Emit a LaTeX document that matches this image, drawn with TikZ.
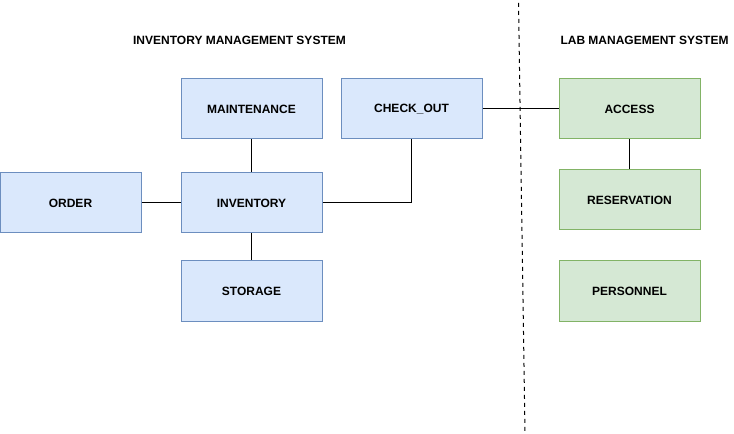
\documentclass[tikz,border=0pt]{standalone}
\usepackage{fontspec}
\setmainfont{Liberation Sans}
\definecolor{bfill}{HTML}{DAE8FC}
\definecolor{bdraw}{HTML}{6C8EBF}
\definecolor{gfill}{HTML}{D5E8D4}
\definecolor{gdraw}{HTML}{82B366}
\begin{document}
\begin{tikzpicture}[x=0.75pt,y=-0.75pt,
  box/.style={draw, line width=0.75pt, minimum width=141*0.75pt, minimum height=60*0.75pt, inner sep=0pt, font=\fontsize{9pt}{11pt}\selectfont\bfseries},
  bluebox/.style={box, fill=bfill, draw=bdraw},
  greenbox/.style={box, fill=gfill, draw=gdraw},
  title/.style={font=\fontsize{9pt}{11pt}\selectfont\bfseries, inner sep=0pt},
  conn/.style={draw=black, line width=0.75pt}]
\useasboundingbox (0,0) rectangle (734,434);
\node[title] (t1) at (239.5,40) {INVENTORY MANAGEMENT SYSTEM};
\node[title] (t2) at (644.5,40) {LAB MANAGEMENT SYSTEM};
\node[bluebox] (order) at (70.5,203) {ORDER};
\node[bluebox] (inv) at (251.5,203) {INVENTORY};
\node[bluebox] (maint) at (251.5,109) {MAINTENANCE};
\node[bluebox] (stor) at (251.5,291) {STORAGE};
\node[bluebox] (chk) at (411.5,109) {CHECK\_OUT};
\node[greenbox] (acc) at (629.5,109) {ACCESS};
\node[greenbox] (res) at (629.5,200) {RESERVATION};
\node[greenbox] (pers) at (629.5,291) {PERSONNEL};
\coordinate (d1) at (518.5,3);
\coordinate (d2) at (525,432);
\draw[black, line width=0.75pt, dash pattern=on 3pt off 3pt] (d1) -- (d2);
\draw[conn] (order) -- (inv);
\draw[conn] (maint) -- (inv);
\draw[conn] (inv) -- (stor);
\draw[conn] (inv.east) -| (chk.south);
\draw[conn] (chk) -- (acc);
\draw[conn] (acc) -- (res);
\end{tikzpicture}
\end{document}
